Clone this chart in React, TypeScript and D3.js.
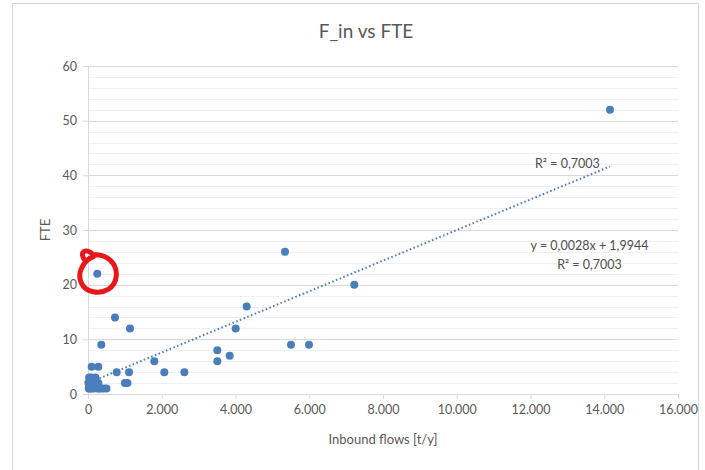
import React, { useEffect, useRef } from "react";
import * as d3 from "d3";

// Inbound flows [t/y] and FTE
const inboundFlows = [
  252, 732, 1139, 361, 100, 280, 778, 1112, 1000, 1070, 1799, 2070, 2613,
  3507, 3507, 3842, 4005, 4303, 5342, 5505, 5993, 7222, 14156,
  20, 60, 30, 100, 120, 80, 150, 170, 200, 250, 220, 300, 280, 350, 420, 500, 50, 40, 10
];
const fte = [
  22, 14, 12, 9, 5, 5, 4, 4, 2, 2, 6, 4, 4,
  8, 6, 7, 12, 16, 26, 9, 9, 20, 52,
  1, 2, 3, 1, 2, 3, 1, 2, 3, 1, 2, 1, 2, 1, 1, 1, 1, 2, 2
];
const xTicks = [0, 2000, 4000, 6000, 8000, 10000, 12000, 14000, 16000];
const yTicks = [0, 10, 20, 30, 40, 50, 60];
const slope = 0.0028;
const intercept = 1.9944;
const r2Label = "R² = 0,7003";
const eqLabel = "y = 0,0028x + 1,9944";
const circledIndex = 0;

const W = 705, H = 470;
const margin = { top: 66, right: 27, bottom: 76, left: 88 };
const FONT = "Lato, 'Open Sans', sans-serif";
const BLUE = "#4a7ebb";
const GREY = "#595959";

const App = () => {
  const ref = useRef<SVGSVGElement>(null);

  useEffect(() => {
    const svg = d3.select(ref.current);
    svg.selectAll("*").remove();
    const w = W - margin.left - margin.right;
    const h = H - margin.top - margin.bottom;

    const x = d3.scaleLinear().domain([0, 16000]).range([0, w]);
    const y = d3.scaleLinear().domain([0, 60]).range([h, 0]);
    const loc = d3.formatLocale({ decimal: ",", thousands: ".", grouping: [3], currency: ["", ""] });
    const fmt = loc.format(",d");

    svg.append("rect")
      .attr("x", 12.5).attr("y", 3.5)
      .attr("width", 686).attr("height", 500)
      .attr("fill", "white").attr("stroke", "#d9d9d9");

    svg.append("text")
      .attr("x", 366).attr("y", 38)
      .attr("text-anchor", "middle")
      .style("font-family", FONT).style("font-size", "19px").style("fill", GREY)
      .text("F_in vs FTE");

    const g = svg.append("g").attr("transform", `translate(${margin.left}, ${margin.top})`);

    // minor gridlines
    g.selectAll(".minor")
      .data(d3.range(0, 61, 2).filter(v => v % 10 !== 0))
      .join("line")
      .attr("x1", 0).attr("x2", w)
      .attr("y1", d => Math.round(y(d)) + 0.5).attr("y2", d => Math.round(y(d)) + 0.5)
      .attr("stroke", "#f0f0f0");

    // major gridlines
    g.selectAll(".major")
      .data(yTicks.filter(v => v > 0))
      .join("line")
      .attr("x1", 0).attr("x2", w)
      .attr("y1", d => Math.round(y(d)) + 0.5).attr("y2", d => Math.round(y(d)) + 0.5)
      .attr("stroke", "#d9d9d9");

    const xAxis = g.append("g")
      .attr("transform", `translate(0, ${h})`)
      .call(d3.axisBottom(x).tickValues(xTicks).tickFormat(d => fmt(d as number)).tickSize(5).tickPadding(6));
    const yAxis = g.append("g")
      .call(d3.axisLeft(y).tickValues(yTicks).tickSize(5).tickPadding(6));
    [xAxis, yAxis].forEach(a => {
      a.selectAll("path, line").attr("stroke", "#d9d9d9");
      a.selectAll("text")
        .style("font-family", FONT).style("font-size", "12.5px").style("fill", GREY);
    });

    g.append("text")
      .attr("x", w / 2).attr("y", h + 50)
      .attr("text-anchor", "middle")
      .style("font-family", FONT).style("font-size", "13px").style("fill", GREY)
      .text("Inbound flows [t/y]");

    g.append("text")
      .attr("transform", `translate(-38, ${y(30)}) rotate(-90)`)
      .attr("text-anchor", "middle")
      .style("font-family", FONT).style("font-size", "13px").style("fill", GREY)
      .text("FTE");

    const pts = inboundFlows.map((v, i) => ({ x: v, y: fte[i] }));

    g.selectAll("circle.pt")
      .data(pts)
      .join("circle")
      .attr("class", "pt")
      .attr("cx", d => x(d.x)).attr("cy", d => y(d.y))
      .attr("r", 4)
      .attr("fill", BLUE);

    const x0 = d3.min(inboundFlows) as number;
    const x1 = d3.max(inboundFlows) as number;
    g.append("line")
      .attr("x1", x(x0)).attr("y1", y(slope * x0 + intercept))
      .attr("x2", x(x1)).attr("y2", y(slope * x1 + intercept))
      .attr("stroke", BLUE).attr("stroke-width", 2)
      .attr("stroke-dasharray", "1.6 2.4");

    const labelStyle = (t: d3.Selection<SVGTextElement, unknown, null, undefined>) =>
      t.attr("text-anchor", "middle")
        .style("font-family", FONT).style("font-size", "12.5px").style("fill", "#4d4d4d");

    g.append("text").attr("x", x(13000)).attr("y", y(41.3)).text(r2Label).call(labelStyle);
    g.append("text").attr("x", x(13600)).attr("y", y(26.3)).text(eqLabel).call(labelStyle);
    g.append("text").attr("x", x(13600)).attr("y", y(22.8)).text(r2Label).call(labelStyle);

    // hand-drawn red circle around one point
    const c = pts[circledIndex];
    const cx = x(c.x), cy = y(c.y);
    const p = d3.path();
    p.moveTo(cx - 12, cy - 13);
    p.bezierCurveTo(cx - 19, cy - 21, cx - 12, cy - 27, cx - 4, cy - 19);
    p.bezierCurveTo(cx + 10, cy - 20, cx + 20, cy - 10, cx + 19, cy + 2);
    p.bezierCurveTo(cx + 18, cy + 15, cx + 6, cy + 20, cx - 4, cy + 18);
    p.bezierCurveTo(cx - 16, cy + 16, cx - 20, cy + 4, cx - 16, cy - 5);
    p.bezierCurveTo(cx - 14, cy - 10, cx - 9, cy - 16, cx - 4, cy - 17);
    g.append("path")
      .attr("d", p.toString())
      .attr("fill", "none")
      .attr("stroke", "#e8171c")
      .attr("stroke-width", 5)
      .attr("stroke-linecap", "round");
  }, []);

  return (
    <svg ref={ref} width={W} height={H} style={{ position: "absolute", left: 0, top: 0 }} />
  );
};

export default App;
